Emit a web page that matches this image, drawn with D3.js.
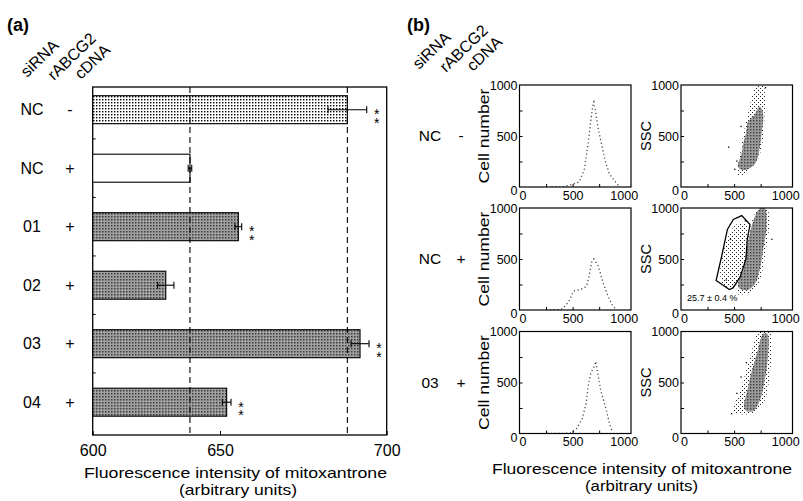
<!DOCTYPE html>
<html>
<head>
<meta charset="utf-8">
<script src="https://cdn.jsdelivr.net/npm/d3@7"></script>
<style>
  body { margin: 0; background: #fff; }
  svg { font-family: "Liberation Sans", Arial, Helvetica, sans-serif; }
  .sig { writing-mode: vertical-rl; text-orientation: upright; }
</style>
</head>
<body>
<script>
// ---------------- DATA ----------------
// Panel (a)
const siRNA = ["NC", "NC", "01", "02", "03", "04"];
const rABCG2cDNA = ["-", "+", "+", "+", "+", "+"];
const fluorescence = [688.2, 638.2, 655.5, 628.7, 692.0, 652.0];
const fluorescenceSE = [5.8, 0.7, 1.0, 3.2, 2.7, 1.3];
const significance = ["**", "", "**", "", "**", "**"];
const xTicksA = [600, 650, 700];
const headerLabels = ["siRNA", "rABCG2", "cDNA"];

// Panel (b)
const flowSiRNA = ["NC", "NC", "03"];
const flowCDNA = ["-", "+", "+"];
const flowTicks = [0, 500, 1000];
const flowMinorTicks = [250, 500, 750];

// histograms: [fluorescence, cell number]
const histNCminus = [[300,0],[420,3],[469,17],[562,49],[609,164],[631,312],[650,459],[672,656],[694,820],[700,835],[719,722],[743,558],[775,410],[806,263],[844,132],[891,66],[937,7]];
const histNCplus = [[250,0],[380,5],[412,16],[475,100],[506,183],[540,195],[569,200],[605,215],[632,233],[656,333],[679,466],[700,500],[741,433],[788,266],[834,133],[881,33],[920,3]];
const hist03plus = [[260,0],[475,3],[534,41],[591,146],[628,299],[650,490],[672,592],[703,656],[719,707],[734,605],[766,418],[813,248],[844,112],[875,10]];
const histograms = [histNCminus, histNCplus, hist03plus];

// scatter clouds: outlines of the dense and sparse regions [fluorescence, SSC]
const scatterNCminusSparse = [[[537,110],[553,299],[584,495],[631,723],[678,919],[709,990],[772,1000],[793,886],[787,723],[772,462],[724,267],[662,176],[584,120]]];
const scatterNCminusDense = [[[537,201],[568,316],[584,413],[615,543],[631,641],[690,707],[741,788],[772,723],[756,495],[724,299],[690,218],[615,169],[568,169]]];
const scatterNCminusOutliers = [[443,397],[500,180],[520,260],[790,980],[560,600]];

const scatterNCplusSparse = [
  [[369,371],[415,629],[478,790],[556,855],[619,823],[619,500],[572,306],[478,226],[399,242]],
  [[530,160],[575,400],[610,600],[640,760],[690,930],[735,1000],[810,1000],[830,820],[800,600],[770,400],[720,240],[640,170]]
];
const scatterNCplusDense = [[[540,226],[587,403],[619,596],[650,758],[697,920],[743,995],[790,995],[806,823],[774,596],[743,403],[697,258],[619,194]]];
const scatterNCplusOutliers = [[420,300],[460,700],[600,880],[850,700]];
const gateNCplus = [[331,290],[384,532],[437,790],[493,887],[572,925],[650,838],[624,693],[612,500],[556,322],[490,216],[455,200]];
const gatePercent = "25.7 ± 0.4 %";

const scatter03plusSparse = [[[491,219],[553,404],[616,623],[663,792],[710,960],[756,1000],[834,1000],[850,792],[834,556],[788,320],[710,219],[616,186]]];
const scatter03plusDense = [[[600,236],[632,455],[679,657],[726,825],[773,977],[813,977],[819,758],[788,522],[741,320],[679,219]]];
const scatter03plusOutliers = [[470,200],[520,400],[560,560],[610,700]];

const scatters = [
  {sparse: scatterNCminusSparse, dense: scatterNCminusDense, outliers: scatterNCminusOutliers, gate: null},
  {sparse: scatterNCplusSparse, dense: scatterNCplusDense, outliers: scatterNCplusOutliers, gate: gateNCplus},
  {sparse: scatter03plusSparse, dense: scatter03plusDense, outliers: scatter03plusOutliers, gate: null}
];

// ---------------- DRAW ----------------
const FONT = "Liberation Sans, Arial, Helvetica, sans-serif";
const W = 803, H = 501;
const svg = d3.select("body").append("svg").attr("width", W).attr("height", H);
svg.append("rect").attr("width", W).attr("height", H).attr("fill", "#fff");

const defs = svg.append("defs");
function dotPattern(id, size, dot, bg, fg, stagger) {
  const p = defs.append("pattern").attr("id", id).attr("width", size).attr("height", size)
    .attr("patternUnits", "userSpaceOnUse");
  p.append("rect").attr("width", size).attr("height", size).attr("fill", bg);
  p.append("rect").attr("width", dot).attr("height", dot).attr("fill", fg);
  if (stagger) p.append("rect").attr("x", size / 2).attr("y", size / 2).attr("width", dot).attr("height", dot).attr("fill", fg);
}
dotPattern("stipple", 3, 1.4, "#ffffff", "#000000", false);
dotPattern("darkfill", 3, 1.5, "#a0a0a0", "#3a3a3a", false);
dotPattern("sparse", 4, 1.0, "#ffffff", "#222222", true);
dotPattern("dense", 3, 1.4, "#9a9a9a", "#404040", false);

// ---- Panel (a) ----
const A = {left: 92.7, right: 386.7, top: 87, bottom: 435};
const xA = d3.scaleLinear().domain(xTicksA).range([A.left, 220, A.right]);
const rowIds = siRNA.map((s, i) => s + rABCG2cDNA[i]);
const yA = d3.scalePoint().domain(rowIds).range([109.7, 402.2]);
const barH = 28;

svg.append("text").attr("x", 7).attr("y", 31).attr("font-size", 18).attr("font-weight", "bold").text("(a)");
svg.append("text").attr("x", 407).attr("y", 31).attr("font-size", 18).attr("font-weight", "bold").text("(b)");

function headers(x0, y0) {
  const offs = [[0, 0], [27, 3], [54, 2]];
  headerLabels.forEach((t, i) => {
    svg.append("text")
      .attr("transform", `translate(${x0 + offs[i][0]},${y0 + offs[i][1]}) rotate(-44)`)
      .attr("font-size", 16).text(t);
  });
}
headers(27, 78);
headers(419, 70);

// frame
const ga = svg.append("g");
ga.append("rect").attr("x", A.left).attr("y", A.top).attr("width", A.right - A.left).attr("height", A.bottom - A.top)
  .attr("fill", "none").attr("stroke", "#000").attr("stroke-width", 1.3);

// bars
const barFill = (i) => rABCG2cDNA[i] === "-" ? "url(#stipple)" : (siRNA[i] === "NC" ? "#fff" : "url(#darkfill)");
ga.selectAll("rect.bar").data(fluorescence).join("rect").attr("class", "bar")
  .attr("x", xA(600)).attr("y", (d, i) => yA(rowIds[i]) - barH / 2)
  .attr("width", d => xA(d) - xA(600)).attr("height", barH)
  .attr("fill", (d, i) => barFill(i)).attr("stroke", "#000").attr("stroke-width", 1.1);

// dashed reference lines at control values
[fluorescence[1], fluorescence[0]].forEach(v => {
  ga.append("line").attr("x1", xA(v)).attr("x2", xA(v)).attr("y1", A.top).attr("y2", A.bottom)
    .attr("stroke", "#000").attr("stroke-width", 1.1).attr("stroke-dasharray", "6,4");
});

// error bars
fluorescence.forEach((v, i) => {
  const y = yA(rowIds[i]), e = fluorescenceSE[i];
  const x1 = xA(v - e), x2 = xA(v + e);
  ga.append("line").attr("x1", x1).attr("x2", x2).attr("y1", y).attr("y2", y).attr("stroke", "#000").attr("stroke-width", 1.1);
  [x1, x2].forEach(x => ga.append("line").attr("x1", x).attr("x2", x).attr("y1", y - 3.5).attr("y2", y + 3.5)
    .attr("stroke", "#000").attr("stroke-width", 1.1));
  if (significance[i]) {
    const sx = x2 + 10;
    // asterisks stacked vertically (one text element, upright vertical writing)
    ga.append("text").attr("class", "sig").attr("x", sx).attr("y", y + 5)
      .attr("text-anchor", "middle").attr("font-size", 14).attr("letter-spacing", -7.5)
      .attr("fill", "#000").text(significance[i]);
  }
});

// left inward ticks at row boundaries
for (let i = 0; i < rowIds.length - 1; i++) {
  const yb = (yA(rowIds[i]) + yA(rowIds[i + 1])) / 2;
  ga.append("line").attr("x1", A.left).attr("x2", A.left + 3).attr("y1", yb).attr("y2", yb).attr("stroke", "#000");
}

// x axis
const axA = ga.append("g").attr("transform", `translate(0,${A.bottom})`)
  .call(d3.axisBottom(xA).tickValues(xTicksA).tickSize(-4).tickPadding(10).tickFormat(d3.format("d")));
axA.attr("font-family", FONT);
axA.select(".domain").remove();
axA.selectAll("text").attr("font-size", 16).attr("fill", "#000");
axA.selectAll("line").attr("stroke", "#000");

// row labels (a)
rowIds.forEach((id, i) => {
  const y = yA(id) + 5.5;
  svg.append("text").attr("x", 32).attr("y", y).attr("text-anchor", "middle").attr("font-size", 16).text(siRNA[i]);
  svg.append("text").attr("x", 70).attr("y", y).attr("text-anchor", "middle").attr("font-size", 16).text(rABCG2cDNA[i]);
});

svg.append("text").attr("x", 235.5).attr("y", 478).attr("text-anchor", "middle").attr("font-size", 15)
  .attr("textLength", 303).attr("lengthAdjust", "spacingAndGlyphs").text("Fluorescence intensity of mitoxantrone");
svg.append("text").attr("x", 238).attr("y", 495).attr("text-anchor", "middle").attr("font-size", 15)
  .attr("textLength", 118).attr("lengthAdjust", "spacingAndGlyphs").text("(arbitrary units)");

// ---- Panel (b) ----
const histLeft = 519.5, scatLeft = 681, plotW = 111.5, plotH = 102;
const rowTops = [85, 208, 331.5];

function plotFrame(left, top, ylab, ylabX, clipId) {
  const g = svg.append("g");
  const x = d3.scaleLinear().domain([0, 1050]).range([left, left + plotW]);
  const y = d3.scaleLinear().domain([0, 1000]).range([top + plotH, top]);
  defs.append("clipPath").attr("id", clipId).append("rect")
    .attr("x", left).attr("y", top).attr("width", plotW).attr("height", plotH);
  const inner = g.append("g").attr("clip-path", `url(#${clipId})`);
  const fmt = d3.format("d");
  const ax = g.append("g").attr("transform", `translate(0,${top + plotH})`)
    .call(d3.axisBottom(x).tickValues(flowTicks).tickSize(0).tickPadding(4).tickFormat(fmt));
  ax.attr("font-family", FONT);
  ax.select(".domain").remove();
  ax.selectAll("text").attr("font-size", 12.5).attr("fill", "#000").attr("dx", d => d === 0 ? 3 : (d === 1000 ? -2 : 0));
  const ay = g.append("g").attr("transform", `translate(${left},0)`)
    .call(d3.axisLeft(y).tickValues(flowTicks).tickSize(0).tickPadding(2).tickFormat(fmt));
  ay.attr("font-family", FONT);
  ay.select(".domain").remove();
  ay.selectAll("text").attr("font-size", 12.5).attr("fill", "#000").attr("dy", d => d === 0 ? "0.6em" : "0.35em");
  const mx = g.append("g").attr("transform", `translate(0,${top + plotH})`)
    .call(d3.axisBottom(x).tickValues(flowMinorTicks).tickSize(-3).tickFormat(""));
  mx.select(".domain").remove();
  const my = g.append("g").attr("transform", `translate(${left},0)`)
    .call(d3.axisLeft(y).tickValues(flowMinorTicks).tickSize(-3).tickFormat(""));
  my.select(".domain").remove();
  g.selectAll("line").attr("stroke", "#000");
  g.append("rect").attr("x", left).attr("y", top).attr("width", plotW).attr("height", plotH)
    .attr("fill", "none").attr("stroke", "#000").attr("stroke-width", 1.2);
  svg.append("text").attr("transform", `translate(${ylabX},${top + plotH / 2}) rotate(-90)`)
    .attr("text-anchor", "middle").attr("dy", "0.35em").attr("font-size", 14)
    .attr("textLength", ylab === "SSC" ? 30 : 95).attr("lengthAdjust", "spacingAndGlyphs").text(ylab);
  return {x, y, inner};
}

histograms.forEach((h, r) => {
  const top = rowTops[r];
  const p = plotFrame(histLeft, top, "Cell number", 484, "ch" + r);
  const line = d3.line().x(d => p.x(d[0])).y(d => p.y(d[1]));
  p.inner.append("path").datum(h).attr("d", line).attr("fill", "none")
    .attr("stroke", "#444").attr("stroke-width", 1.3).attr("stroke-dasharray", "1.2,2.6");
  svg.append("text").attr("x", 430).attr("y", top + plotH / 2 + 5).attr("text-anchor", "middle").attr("font-size", 15.5).text(flowSiRNA[r]);
  svg.append("text").attr("x", 461).attr("y", top + plotH / 2 + 5).attr("text-anchor", "middle").attr("font-size", 15.5).text(flowCDNA[r]);
});

scatters.forEach((s, r) => {
  const top = rowTops[r];
  const p = plotFrame(scatLeft, top, "SSC", 646, "cs" + r);
  const blob = d3.line().x(d => p.x(d[0])).y(d => p.y(d[1])).curve(d3.curveCatmullRomClosed);
  s.sparse.forEach(poly => p.inner.append("path").datum(poly).attr("d", blob).attr("fill", "url(#sparse)"));
  s.dense.forEach(poly => p.inner.append("path").datum(poly).attr("d", blob).attr("fill", "url(#dense)"));
  p.inner.selectAll("rect.out").data(s.outliers).join("rect").attr("class", "out")
    .attr("x", d => p.x(d[0])).attr("y", d => p.y(d[1])).attr("width", 1.3).attr("height", 1.3).attr("fill", "#000");
  if (s.gate) {
    const gl = d3.line().x(d => p.x(d[0])).y(d => p.y(d[1])).curve(d3.curveLinearClosed);
    p.inner.append("path").datum(s.gate).attr("d", gl).attr("fill", "none").attr("stroke", "#000").attr("stroke-width", 1.3);
    svg.append("text").attr("x", scatLeft + 6).attr("y", top + plotH - 9).attr("font-size", 9).text(gatePercent);
  }
});

svg.append("text").attr("x", 642).attr("y", 474).attr("text-anchor", "middle").attr("font-size", 15)
  .attr("textLength", 300).attr("lengthAdjust", "spacingAndGlyphs").text("Fluorescence intensity of mitoxantrone");
svg.append("text").attr("x", 641.5).attr("y", 491).attr("text-anchor", "middle").attr("font-size", 15)
  .attr("textLength", 113).attr("lengthAdjust", "spacingAndGlyphs").text("(arbitrary units)");
</script>
</body>
</html>
